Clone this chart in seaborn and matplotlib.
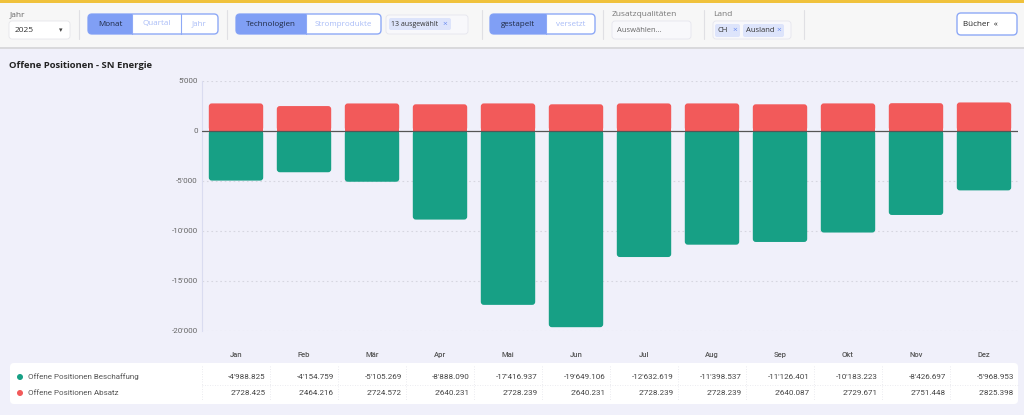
import matplotlib
matplotlib.use("Agg")
import matplotlib.pyplot as plt
import matplotlib.transforms as mtransforms
from matplotlib.patches import FancyBboxPatch, Rectangle, Circle
from matplotlib.ticker import FuncFormatter
import seaborn as sns
import pandas as pd

# ---------------- data ----------------
months = ["Jan", "Feb", "Mär", "Apr", "Mai", "Jun", "Jul", "Aug", "Sep", "Okt", "Nov", "Dez"]
beschaffung = [-4988.825, -4154.759, -5105.269, -8888.090, -17416.937, -19649.106,
               -12632.619, -11398.537, -11126.401, -10183.223, -8426.697, -5968.953]
absatz = [2728.425, 2464.216, 2724.572, 2640.231, 2728.239, 2640.231,
          2728.239, 2728.239, 2640.087, 2729.671, 2751.448, 2825.398]
series_names = ["Offene Positionen Beschaffung", "Offene Positionen Absatz"]
series_colors = ["#17a085", "#f25a5a"]
y_ticks = [5000, 0, -5000, -10000, -15000, -20000]
title = "Offene Positionen - SN Energie"

W, H = 1024, 415
BG = "#f0f0fa"

sns.set_theme(style="white")
plt.rcParams["font.family"] = ["Roboto", "DejaVu Sans"]

fig = plt.figure(figsize=(W / 100, H / 100), dpi=100)
fig.patch.set_facecolor(BG)

PX = mtransforms.Affine2D().scale(1 / W, -1 / H).translate(0, 1) + fig.transFigure


def box(x0, y0, x1, y1, fc, ec="none", lw=0.8, r=3, z=1):
    p = FancyBboxPatch((x0, y0), x1 - x0, y1 - y0,
                       boxstyle=f"round,pad=0,rounding_size={r}",
                       fc=fc, ec=ec, lw=lw, transform=PX, zorder=z)
    fig.patches.append(p)
    return p


def rect(x0, y0, x1, y1, fc, z=0):
    p = Rectangle((x0, y0), x1 - x0, y1 - y0, fc=fc, ec="none", transform=PX, zorder=z)
    fig.patches.append(p)


def txt(x, y, s, size=6, color="#333", ha="left", weight="normal", family=None, z=5):
    kw = {}
    if family:
        kw["family"] = family
    fig.text(x / W, 1 - y / H, s, fontsize=size, color=color, ha=ha, va="center",
             weight=weight, zorder=z, **kw)


UI = ["Open Sans", "DejaVu Sans"]

# ---------------- toolbar ----------------
rect(0, 0, W, 3, "#f0c23c", z=0)
rect(0, 3, W, 47, "#f7f7f7", z=0)
rect(0, 47, W, 49.5, "#d9d9dc", z=0)

BLUE = "#809ff5"
BORD = "#8ea9f6"
LIGHTTXT = "#a9bcf7"

# Jahr
txt(10, 15, "Jahr", 6, "#666", family=UI)
box(9, 21, 70, 39, "white", "#e6e6ea", 0.6, 3)
txt(15, 30, "2025", 6, "#333", family=UI)
txt(61, 30.5, "▾", 5, "#444", ha="center", family=["DejaVu Sans"])

for sx in [79, 227, 482, 603, 704, 804]:
    fig.lines.append(plt.Line2D([sx, sx], [10, 39], color="#e0e0e4", lw=0.8, transform=PX))


def segmented(x0, xs, y0, y1, labels):
    box(x0, y0, xs[-1], y1, "white", BORD, 1.0, 4)
    box(x0, y0, xs[0], y1, BLUE, "none", 0, 4, z=2)
    rect(xs[0] - 4, y0, xs[0], y1, BLUE, z=2)
    lefts = [x0] + xs[:-1]
    for i, (a, b, lab) in enumerate(zip(lefts, xs, labels)):
        txt((a + b) / 2, (y0 + y1) / 2, lab, 5.8, "#1f2a44" if i == 0 else LIGHTTXT,
            ha="center", family=UI)
        if i > 0:
            fig.lines.append(plt.Line2D([a, a], [y0, y1], color=BORD, lw=0.8, transform=PX, zorder=3))


segmented(88, [132, 181, 218], 14, 34, ["Monat", "Quartal", "Jahr"])
segmented(236, [306, 381], 14, 34, ["Technologien", "Stromprodukte"])
segmented(490, [546, 595], 14, 34, ["gestapelt", "versetzt"])

# 13 ausgewählt
box(386, 15, 468, 34, "#f8f8fb", "#e6e6ee", 0.6, 3)
box(389, 18, 451, 30, "#dde4fb", "none", 0, 2, z=2)
txt(391, 24.5, "13 ausgewählt", 5.0, "#333", family=UI)
txt(445, 24.8, "×", 6, "#6b8cf0", ha="center", family=UI)

# Zusatzqualitäten
txt(612, 15, "Zusatzqualitäten", 6, "#777", family=UI)
box(612, 21, 691, 39, "#f8f8fb", "#e6e6ee", 0.6, 3)
txt(617, 30, "Auswählen...", 5.5, "#666", family=UI)

# Land
txt(713, 15, "Land", 6, "#777", family=UI)
box(713, 21, 791, 39, "#f8f8fb", "#e6e6ee", 0.6, 3)
box(715, 24, 740, 37, "#dde4fb", "none", 0, 2, z=2)
txt(718, 30.5, "CH", 5.5, "#333", family=UI)
txt(735, 30.8, "×", 6, "#6b8cf0", ha="center", family=UI)
box(743, 24, 784, 37, "#dde4fb", "none", 0, 2, z=2)
txt(746, 30.5, "Ausland", 5.5, "#333", family=UI)
txt(779, 30.8, "×", 6, "#6b8cf0", ha="center", family=UI)

# Bücher button
box(957, 13, 1017, 35, "white", BORD, 1.0, 4)
txt(980, 24, "Bücher  «", 5.8, "#222", ha="center", family=UI)

# ---------------- chart ----------------
txt(9, 65, title, 6.8, "#222", weight="bold", family=UI)

ax_left, ax_right = 202 / W, 1018 / W
ax_bot, ax_top = 1 - 330.7 / H, 1 - 80.7 / H
ax = fig.add_axes([ax_left, ax_bot, ax_right - ax_left, ax_top - ax_bot])
ax.set_facecolor(BG)

df = pd.DataFrame({
    "Monat": months * 2,
    "Serie": [series_names[0]] * 12 + [series_names[1]] * 12,
    "Wert": beschaffung + absatz,
})
sns.barplot(data=df, x="Monat", y="Wert", hue="Serie", order=months,
            hue_order=series_names, palette=series_colors, dodge=False,
            width=0.8, saturation=1, legend=False, ax=ax, zorder=3)

ax.set_ylim(-20000, 5000)
ax.set_xlim(-0.5, len(months) - 0.5)

# round the outer end of every bar (geometry taken from the seaborn patches)
px_x = ax.bbox.width / (len(months))
px_y = ax.bbox.height / 25000.0
aspect = px_x / px_y
r_px = 3.0
for p in list(ax.patches):
    x0, w = p.get_x(), p.get_width()
    y0, h = p.get_y(), p.get_height()
    lo, hi = min(y0, y0 + h), max(y0, y0 + h)
    col = p.get_facecolor()
    p.set_visible(False)
    rb = FancyBboxPatch((x0, lo), w, hi - lo,
                        boxstyle=f"round,pad=0,rounding_size={r_px / px_x}",
                        mutation_aspect=aspect, fc=col, ec="none", zorder=3)
    ax.add_patch(rb)
    half = (hi - lo) / 2
    if hi > 0:  # positive bar: square bottom at zero
        sq = Rectangle((x0, lo), w, half, fc=col, ec="none", zorder=3)
    else:
        sq = Rectangle((x0, hi - half), w, half, fc=col, ec="none", zorder=3)
    ax.add_patch(sq)

ax.set_yticks(y_ticks)
ax.yaxis.set_major_formatter(FuncFormatter(lambda v, _: f"{v:,.0f}".replace(",", "'")))
ax.tick_params(axis="y", labelsize=5.8, labelcolor="#666", length=0, pad=3)
ax.tick_params(axis="x", labelsize=5.5, labelcolor="#555", length=0, pad=15)
for lab in ax.get_xticklabels():
    lab.set_fontweight("medium")
ax.set_xlabel("")
ax.set_ylabel("")
for t in y_ticks:
    if t != 0:
        ax.axhline(t, color="#d6d6e0", lw=0.8, ls=(0, (1.5, 2.5)), zorder=1)
ax.axhline(0, color="#555", lw=0.9, zorder=4)
for s in ["top", "right", "bottom"]:
    ax.spines[s].set_visible(False)
ax.spines["left"].set_color("#dadcf0")
ax.spines["left"].set_linewidth(0.8)

# ---------------- table ----------------
box(10, 363, 1018, 404, "white", "none", 0, 4, z=0)
bt = mtransforms.blended_transform_factory(ax.transData, PX)
for k in range(len(months)):
    fig.lines.append(plt.Line2D([k - 0.5, k - 0.5], [366, 401], color="#e4e4ea", lw=0.6,
                                ls=(0, (1, 2)), transform=bt, zorder=2))
fig.lines.append(plt.Line2D([-0.5, len(months) - 0.5], [385, 385], color="#e4e4ea", lw=0.6,
                            ls=(0, (1, 2)), transform=bt, zorder=2))

vt = mtransforms.blended_transform_factory(ax.transData, fig.transFigure)
rows = [(beschaffung, 377), (absatz, 393)]
for (vals, yy), name, col in zip(rows, series_names, series_colors):
    fig.patches.append(Circle((20, yy), 3, fc=col, ec="none", transform=PX, zorder=3))
    txt(28, yy, name, 5.8, "#555")
    for k, v in enumerate(vals):
        fig.text(k + 0.44, 1 - yy / H, f"{v:,.3f}".replace(",", "'"), transform=vt,
                 fontsize=5.8, color="#444", ha="right", va="center", zorder=5)

fig.savefig("out.png", dpi=100, facecolor=BG)
